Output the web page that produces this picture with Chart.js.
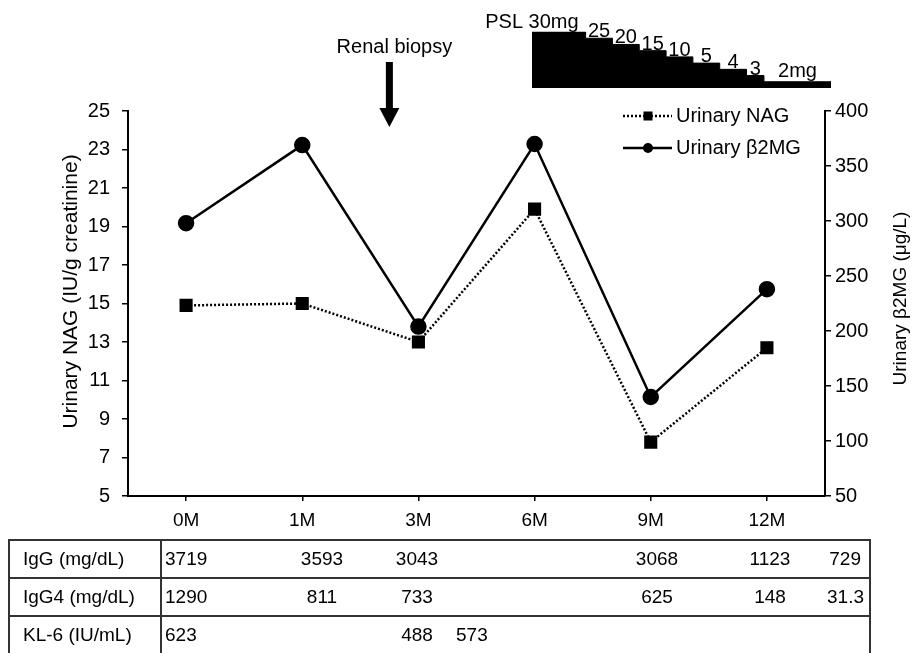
<!DOCTYPE html>
<html>
<head>
<meta charset="utf-8">
<script src="https://cdn.jsdelivr.net/npm/chart.js@4.4.1/dist/chart.umd.min.js"></script>
<style>
  body { margin: 0; background: #fff; font-family: "Liberation Sans", Arial, sans-serif; }
  #wrap { position: relative; width: 913px; height: 653px; overflow: hidden; }
  canvas { position: absolute; left: 0; top: 0; }
  #labs { position: absolute; left: 8px; top: 539px; border-collapse: collapse; table-layout: fixed;
          font-size: 19px; color: #000; }
  #labs td { height: 36px; padding: 0; border-top: 2px solid #333; border-bottom: 2px solid #333;
             white-space: nowrap; vertical-align: middle; }
  #labs td.name { border-left: 2px solid #333; border-right: 2px solid #333; padding-left: 13px; }
  #labs td.last { border-right: 2px solid #333; text-align: right; padding-right: 8px; }
  #labs td.l { padding-left: 3px; }
  #labs td.c { text-align: center; }
  #labs td.l15 { padding-left: 15px; }
</style>
</head>
<body>
<div id="wrap">
  <canvas id="mainChart" width="913" height="653"></canvas>
  <canvas id="pslChart" width="913" height="100"></canvas>
  <table id="labs"></table>
</div>
<script>
// urinary markers per visit
const months = ['0M', '1M', '3M', '6M', '9M', '12M'];
const nag = [14.9, 15.0, 13.0, 19.9, 7.8, 12.7];      // IU/g creatinine
const b2mg = [298, 369, 204, 370, 140, 238];          // ug/L
const biopsyAt = 1.75;                                 // between 1M and 3M

// prednisolone taper (dose, weeks at that dose)
const drug = 'PSL';
const pslDose = ['30', '25', '20', '15', '10', '5', '4', '3', '2'];
const pslWeeks = [4, 2, 2, 2, 2, 2, 2, 1.3, 5];
const pslText = ['30mg', '25', '20', '15', '10', '5', '4', '3', '2mg'];

// serum values table
const tableRows = ['IgG (mg/dL)', 'IgG4 (mg/dL)', 'KL-6 (IU/mL)'];
const igg  = ['3719', '3593', '3043', '', '3068', '1123', '729'];
const igg4 = ['1290', '811', '733', '', '625', '148', '31.3'];
const kl6  = ['623', '', '488', '573', '', '', ''];

const FONT = '"Liberation Sans", Arial, sans-serif';

function sideTitle(ctx, text, x, y, size) {
  ctx.save();
  ctx.translate(x, y);
  ctx.rotate(-Math.PI / 2);
  ctx.font = size + 'px ' + FONT;
  ctx.textAlign = 'center';
  ctx.textBaseline = 'middle';
  ctx.fillText(text, 0, 0);
  ctx.restore();
}

const overlay = {
  id: 'overlay',
  afterDraw(chart) {
    const ctx = chart.ctx;
    const xs = chart.scales.x;
    const area = chart.chartArea;
    ctx.save();
    ctx.fillStyle = '#000';
    ctx.strokeStyle = '#000';

    // renal biopsy arrow
    const bx = xs.getPixelForValue(biopsyAt);
    ctx.font = '20px ' + FONT;
    ctx.textAlign = 'center';
    ctx.textBaseline = 'alphabetic';
    ctx.fillText('Renal biopsy', bx + 5, 53);
    ctx.fillRect(bx - 3.5, 62, 7, 47);
    ctx.beginPath();
    ctx.moveTo(bx - 10, 108);
    ctx.lineTo(bx + 10, 108);
    ctx.lineTo(bx, 127);
    ctx.closePath();
    ctx.fill();

    // legend
    const lx = area.right - 202;
    chart.data.datasets.forEach((ds, i) => {
      const y = 116 + i * 32;
      ctx.save();
      ctx.lineWidth = ds.borderWidth;
      ctx.setLineDash(ds.borderDash || []);
      ctx.beginPath();
      ctx.moveTo(lx, y);
      ctx.lineTo(lx + 49, y);
      ctx.stroke();
      ctx.restore();
      const m = lx + 25;
      if (ds.pointStyle === 'rect') {
        ctx.fillRect(m - 4.5, y - 4.5, 9, 9);
      } else {
        ctx.beginPath();
        ctx.arc(m, y, 5, 0, Math.PI * 2);
        ctx.fill();
      }
      ctx.font = '20px ' + FONT;
      ctx.textAlign = 'left';
      ctx.textBaseline = 'middle';
      ctx.fillText(ds.label, lx + 53, y);
    });

    // axis titles, both reading upwards
    const mid = (area.top + area.bottom) / 2;
    sideTitle(ctx, 'Urinary NAG (IU/g creatinine)', 71, mid - 12, 21);
    sideTitle(ctx, 'Urinary \u03B22MG (\u03BCg/L)', chart.scales.y1.right - 12, mid - 5, 19);
    ctx.restore();
  }
};

const axisGrid = { display: true, drawOnChartArea: false, drawTicks: true, color: '#000', lineWidth: 1.5 };

new Chart(document.getElementById('mainChart'), {
  type: 'line',
  data: {
    labels: months,
    datasets: [{
      label: 'Urinary NAG',
      data: nag,
      yAxisID: 'y',
      borderColor: '#000',
      backgroundColor: '#000',
      borderWidth: 2.5,
      borderDash: [2, 2],
      pointStyle: 'rect',
      pointRadius: 7.5,
      pointBackgroundColor: '#000',
      fill: false,
    }, {
      label: 'Urinary \u03B22MG',
      data: b2mg,
      yAxisID: 'y1',
      borderColor: '#000',
      backgroundColor: '#000',
      borderWidth: 2.5,
      pointStyle: 'circle',
      pointRadius: 7,
      pointBackgroundColor: '#000',
      fill: false,
    }]
  },
  options: {
    responsive: false,
    animation: false,
    layout: { padding: { top: 111, bottom: 117, left: 0, right: 0 } },
    plugins: { legend: { display: false }, tooltip: { enabled: false } },
    scales: {
      x: {
        type: 'category',
        offset: true,
        grid: { ...axisGrid, tickLength: 5 },
        border: { color: '#000', width: 2 },
        ticks: { color: '#000', font: { size: 19, family: FONT }, padding: 8, maxRotation: 0 },
        afterFit: (s) => { s.height = 40; }
      },
      y: {
        position: 'left',
        min: 5, max: 25,
        grid: { ...axisGrid, tickLength: 6 },
        border: { color: '#000', width: 2 },
        ticks: { stepSize: 2, color: '#000', font: { size: 20, family: FONT }, padding: 12 },
        afterFit: (s) => { s.width = 128; }
      },
      y1: {
        position: 'right',
        min: 50, max: 400,
        grid: { ...axisGrid, tickLength: 6 },
        border: { color: '#000', width: 2 },
        ticks: { stepSize: 50, color: '#000', font: { size: 20, family: FONT }, padding: 4 },
        afterFit: (s) => { s.width = 88; }
      }
    }
  },
  plugins: [overlay]
});

// PSL taper block
const pslPoints = [];
let t = 0;
pslDose.forEach((d, i) => { pslPoints.push({ x: t, y: d }); t += pslWeeks[i]; });
pslPoints.push({ x: t, y: pslDose[pslDose.length - 1] });

const pslLabels = {
  id: 'pslLabels',
  afterDatasetsDraw(chart) {
    const ctx = chart.ctx;
    const xs = chart.scales.x, ys = chart.scales.y;
    ctx.save();
    ctx.fillStyle = '#000';
    ctx.font = '20px ' + FONT;
    ctx.textBaseline = 'alphabetic';
    let start = 0;
    pslDose.forEach((d, i) => {
      const end = start + pslWeeks[i];
      const x0 = xs.getPixelForValue(start), x1 = xs.getPixelForValue(end);
      const top = ys.getPixelForValue(ys.getLabels().indexOf(d));
      if (i === 0) {
        ctx.textAlign = 'right';
        ctx.fillText(drug + ' ' + pslText[i], x1 - 7, top - 4);
      } else {
        ctx.textAlign = 'center';
        ctx.fillText(pslText[i], (x0 + x1) / 2, top - (i === pslDose.length - 1 ? 5 : 1));
      }
      start = end;
    });
    ctx.restore();
  }
};

new Chart(document.getElementById('pslChart'), {
  type: 'line',
  data: {
    datasets: [{
      data: pslPoints,
      stepped: true,
      fill: 'start',
      backgroundColor: '#000',
      borderColor: '#000',
      borderWidth: 1,
      pointRadius: 0,
    }]
  },
  options: {
    responsive: false,
    animation: false,
    layout: { padding: { left: 532, right: 82, top: 32, bottom: 12 } },
    plugins: { legend: { display: false }, tooltip: { enabled: false } },
    scales: {
      x: { type: 'linear', min: 0, max: t, display: false },
      y: { type: 'category', labels: [...pslDose, '0'], offset: false, display: false }
    }
  },
  plugins: [pslLabels]
});

// serum table
const cellClass = ['l', 'c', 'c', 'l15', 'c', 'c', 'last'];
const colWidths = [152, 90, 142, 48, 160, 112, 114, 43];
const table = document.getElementById('labs');
const cg = document.createElement('colgroup');
colWidths.forEach(w => { const c = document.createElement('col'); c.style.width = w + 'px'; cg.appendChild(c); });
table.appendChild(cg);
table.style.width = colWidths.reduce((a, b) => a + b, 0) + 'px';
[igg, igg4, kl6].forEach((vals, r) => {
  const tr = document.createElement('tr');
  const th = document.createElement('td');
  th.className = 'name';
  th.textContent = tableRows[r];
  tr.appendChild(th);
  vals.forEach((v, i) => {
    const td = document.createElement('td');
    td.className = cellClass[i];
    td.textContent = v;
    tr.appendChild(td);
  });
  table.appendChild(tr);
});
</script>
</body>
</html>
